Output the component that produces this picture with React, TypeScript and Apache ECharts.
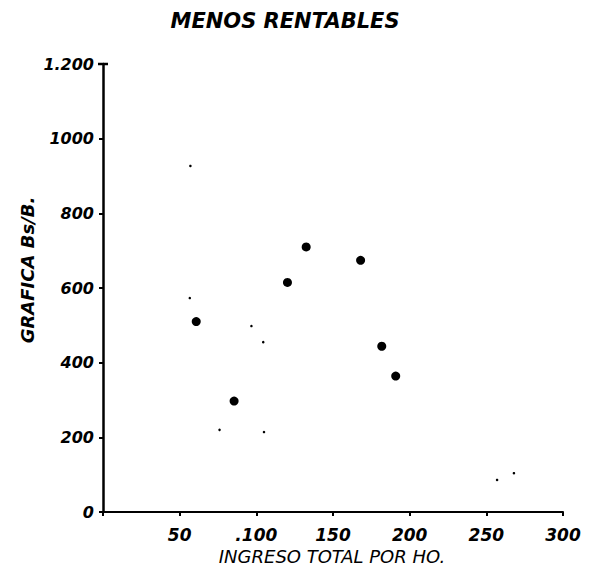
import React, { useEffect, useRef } from "react";
import * as echarts from "echarts";

const titleText = "MENOS RENTABLES";
const xName = "INGRESO TOTAL POR HO.";
const yName = "GRAFICA Bs/B.";
const xTickLabels: Record<number, string> = { 0: "", 50: "50", 100: ".100", 150: "150", 200: "200", 250: "250", 300: "300" };
const yTickLabels: Record<number, string> = { 0: "0", 200: "200", 400: "400", 600: "600", 800: "800", 1000: "1000", 1200: "1.200" };
const mainX = [132.5, 168, 120.3, 60.8, 181.8, 190.9, 85.5];
const mainY = [710, 674, 615, 510, 444, 364, 297];
const speckX = [57, 56.6, 96.8, 104.5, 76, 105, 257, 268];
const speckY = [927, 573, 498, 455, 220, 214, 86, 104];

const FONT = "'DejaVu Sans', sans-serif";

export default function App() {
  const ref = useRef<HTMLDivElement>(null);
  useEffect(() => {
    if (!ref.current) return;
    const chart = echarts.init(ref.current, null, { renderer: "svg" });
    chart.setOption({
      animation: false,
      backgroundColor: "#ffffff",
      grid: { left: 103, top: 64, width: 460, height: 448, containLabel: false },
      xAxis: {
        type: "value",
        min: 0,
        max: 300,
        interval: 50,
        splitLine: { show: false },
        axisLine: { show: true, lineStyle: { color: "#000", width: 2 } },
        axisTick: { show: true, inside: false, length: 4, lineStyle: { color: "#000", width: 2 } },
        axisLabel: {
          margin: 14,
          color: "#000",
          fontFamily: FONT,
          fontStyle: "italic",
          fontWeight: "bold",
          fontSize: 17,
          formatter: (v: number) => xTickLabels[v] ?? String(v),
        },
      },
      yAxis: {
        type: "value",
        min: 0,
        max: 1200,
        interval: 200,
        splitLine: { show: false },
        axisLine: { show: true, lineStyle: { color: "#000", width: 2.5 } },
        axisTick: { show: true, inside: false, length: 4, lineStyle: { color: "#000", width: 2 } },
        axisLabel: {
          margin: 9,
          color: "#000",
          fontFamily: FONT,
          fontStyle: "italic",
          fontWeight: "bold",
          fontSize: 16,
          formatter: (v: number) => yTickLabels[v] ?? String(v),
        },
      },
      series: [
        {
          type: "scatter",
          data: mainX.map((x, i) => [x, mainY[i]]),
          symbol: "circle",
          symbolSize: 9,
          itemStyle: { color: "#000", opacity: 1 },
        },
        {
          type: "scatter",
          data: speckX.map((x, i) => [x, speckY[i]]),
          symbol: "circle",
          symbolSize: 2.5,
          itemStyle: { color: "#000", opacity: 1 },
        },
      ],
      graphic: [
        {
          type: "text",
          x: 285,
          y: 21,
          style: {
            text: titleText,
            fill: "#000",
            font: `italic bold 21px ${FONT}`,
            textAlign: "center",
            textVerticalAlign: "middle",
          },
        },
        {
          type: "text",
          x: 332,
          y: 556,
          style: {
            text: xName,
            fill: "#000",
            font: `italic 18px ${FONT}`,
            textAlign: "center",
            textVerticalAlign: "middle",
          },
        },
        {
          type: "text",
          x: 27,
          y: 270,
          rotation: Math.PI / 2,
          style: {
            text: yName,
            fill: "#000",
            font: `italic bold 18px ${FONT}`,
            textAlign: "center",
            textVerticalAlign: "middle",
          },
        },
        {
          type: "line",
          shape: { x1: 98, y1: 64, x2: 108, y2: 64 },
          style: { stroke: "#000", lineWidth: 2.5 },
        },
      ],
    });
    return () => chart.dispose();
  }, []);
  return (
    <div
      ref={ref}
      style={{ position: "fixed", left: 0, top: 0, width: 596, height: 571 }}
    />
  );
}
